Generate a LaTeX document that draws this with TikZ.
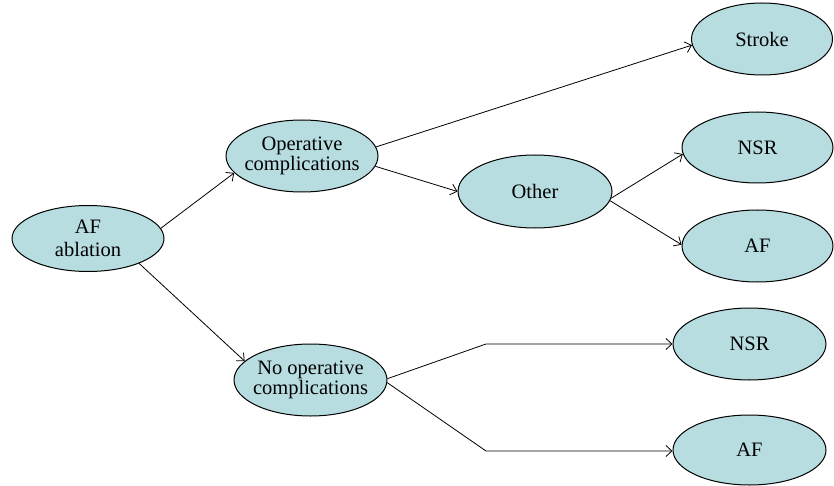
\documentclass[tikz,border=0pt]{standalone}
\usepackage{fontspec}
\setmainfont{Liberation Serif}
\usetikzlibrary{shapes.geometric,arrows.meta}
\definecolor{nodefill}{RGB}{183,221,225}
\begin{document}
\begin{tikzpicture}[x=1pt,y=-1pt,
  ell/.style={ellipse,draw=black,line width=1pt,fill=nodefill,inner sep=-10pt,
    align=center,font=\fontsize{20.5}{20.5}\selectfont},
  conn/.style={line width=0.8pt,-{Straight Barb[length=6pt,width=11pt,line width=0.8pt]}}]
\useasboundingbox (0,0) rectangle (834,486);
\node[ell,minimum width=152pt,minimum height=66pt,font=\fontsize{20.5}{23.5}\selectfont] (A) at (88,238.5) {AF\\ablation};
\node[ell,minimum width=152pt,minimum height=72pt] (Op) at (302,156) {Operative\\complications};
\node[ell,minimum width=154pt,minimum height=73pt] (Ot) at (535,191.5) {Other};
\node[ell,minimum width=141pt,minimum height=72pt] (St) at (762,39) {Stroke};
\node[ell,minimum width=151pt,minimum height=71pt] (N1) at (757.5,147.5) {NSR};
\node[ell,minimum width=151pt,minimum height=72pt] (F1) at (757.5,246) {AF};
\node[ell,minimum width=153pt,minimum height=72pt] (No) at (310.5,380) {No operative\\complications};
\node[ell,minimum width=153pt,minimum height=72pt] (N2) at (749.5,344) {NSR};
\node[ell,minimum width=153pt,minimum height=70pt] (F2) at (749.5,450) {AF};
\coordinate (c1) at (486,344);
\coordinate (c2) at (486,451);
\draw[conn] (A.8) -- (Op.194);
\draw[conn] (A.334) -- (No.164);
\draw[conn] (Op.7) -- (St.185);
\draw[conn] (Op.352) -- (Ot.180);
\draw[conn] (Ot.355) -- (N1.185);
\draw[conn] (Ot.353) -- (F1.179);
\draw[conn] (No.1.5) -- (c1) -- (N2.west);
\draw[conn] (No.358.5) -- (c2) -- (c2 -| F2.west);
\end{tikzpicture}
\end{document}
